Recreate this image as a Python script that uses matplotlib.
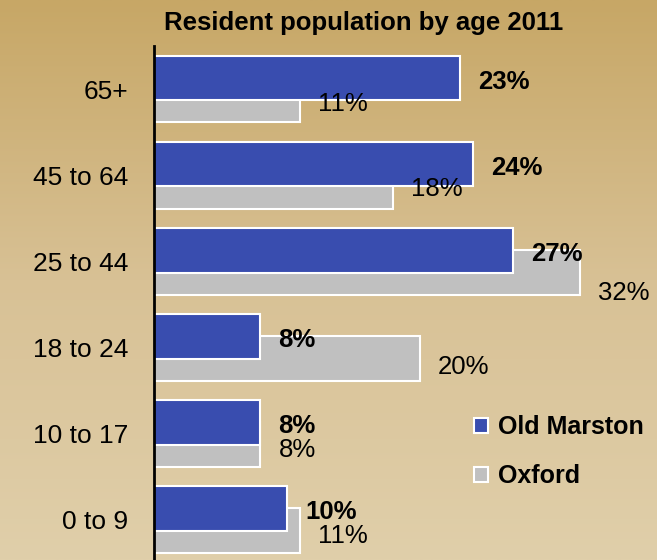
import numpy as np
import matplotlib.pyplot as plt
from matplotlib.colors import LinearSegmentedColormap

plt.rcParams['font.family'] = ['Liberation Sans', 'DejaVu Sans']

categories = ['0 to 9', '10 to 17', '18 to 24', '25 to 44', '45 to 64', '65+']
old_marston = [10, 8, 8, 27, 24, 23]
oxford = [11, 8, 20, 32, 18, 11]

# label nudges (pixels) - the chart tool shifted a few of the Oxford labels
ox_dy = [-5, -6, -9, -21, -3, -4]

blue = '#394DAF'
grey = '#C0C0C0'
DPI = 100
px = 72.0 / DPI

fig = plt.figure(figsize=(6.57, 5.6), dpi=DPI)

# background gradient
bg = fig.add_axes([0, 0, 1, 1])
cmap = LinearSegmentedColormap.from_list('bg', ['#C7A766', '#D8C195', '#E0CFAA'])
bg.imshow(np.linspace(0, 1, 256).reshape(-1, 1), aspect='auto', cmap=cmap,
          extent=[0, 1, 0, 1], origin='upper')
bg.axis('off')

ax = fig.add_axes([154 / 657, -0.0046, 0.7085, 0.9225])
ax.patch.set_alpha(0)
y = np.arange(len(categories))
h = 0.52
off = 0.128

b2 = ax.barh(y - off, oxford, height=h, color=grey, edgecolor='white', linewidth=1.5, label='Oxford')
b1 = ax.barh(y + off, old_marston, height=h, color=blue, edgecolor='white', linewidth=1.5, label='Old Marston')

for i in range(len(categories)):
    ax.annotate(f'{old_marston[i]}%', (old_marston[i], y[i] + off), xytext=(18 * px, -3.5 * px),
                textcoords='offset points', ha='left', va='center', fontsize=18.5,
                fontweight='bold', annotation_clip=False)
    ax.annotate(f'{oxford[i]}%', (oxford[i], y[i] - off), xytext=(18 * px, ox_dy[i] * px),
                textcoords='offset points', ha='left', va='center', fontsize=18.5,
                annotation_clip=False)

ax.set_xlim(0, 35)
ax.set_ylim(-0.5, 5.5)
ax.set_yticks(y)
ax.set_yticklabels(categories, fontsize=19)
ax.tick_params(axis='y', length=0, pad=26 * px)
ax.set_xticks([])
for s in ['top', 'right', 'bottom']:
    ax.spines[s].set_visible(False)
ax.spines['left'].set_linewidth(2)

fig.text(0.554, 0.946, 'Resident population by age 2011', ha='center', va='baseline',
         fontsize=18.5, fontweight='bold')

leg = fig.legend(handles=[b1, b2], loc='upper left', bbox_to_anchor=(0.722, 0.259),
                 frameon=False, prop={'size': 18, 'weight': 'bold'}, handlelength=0.55,
                 handleheight=0.55, handletextpad=0.4, labelspacing=1.0, borderpad=0,
                 borderaxespad=0)

fig.savefig('out.png', dpi=DPI)
